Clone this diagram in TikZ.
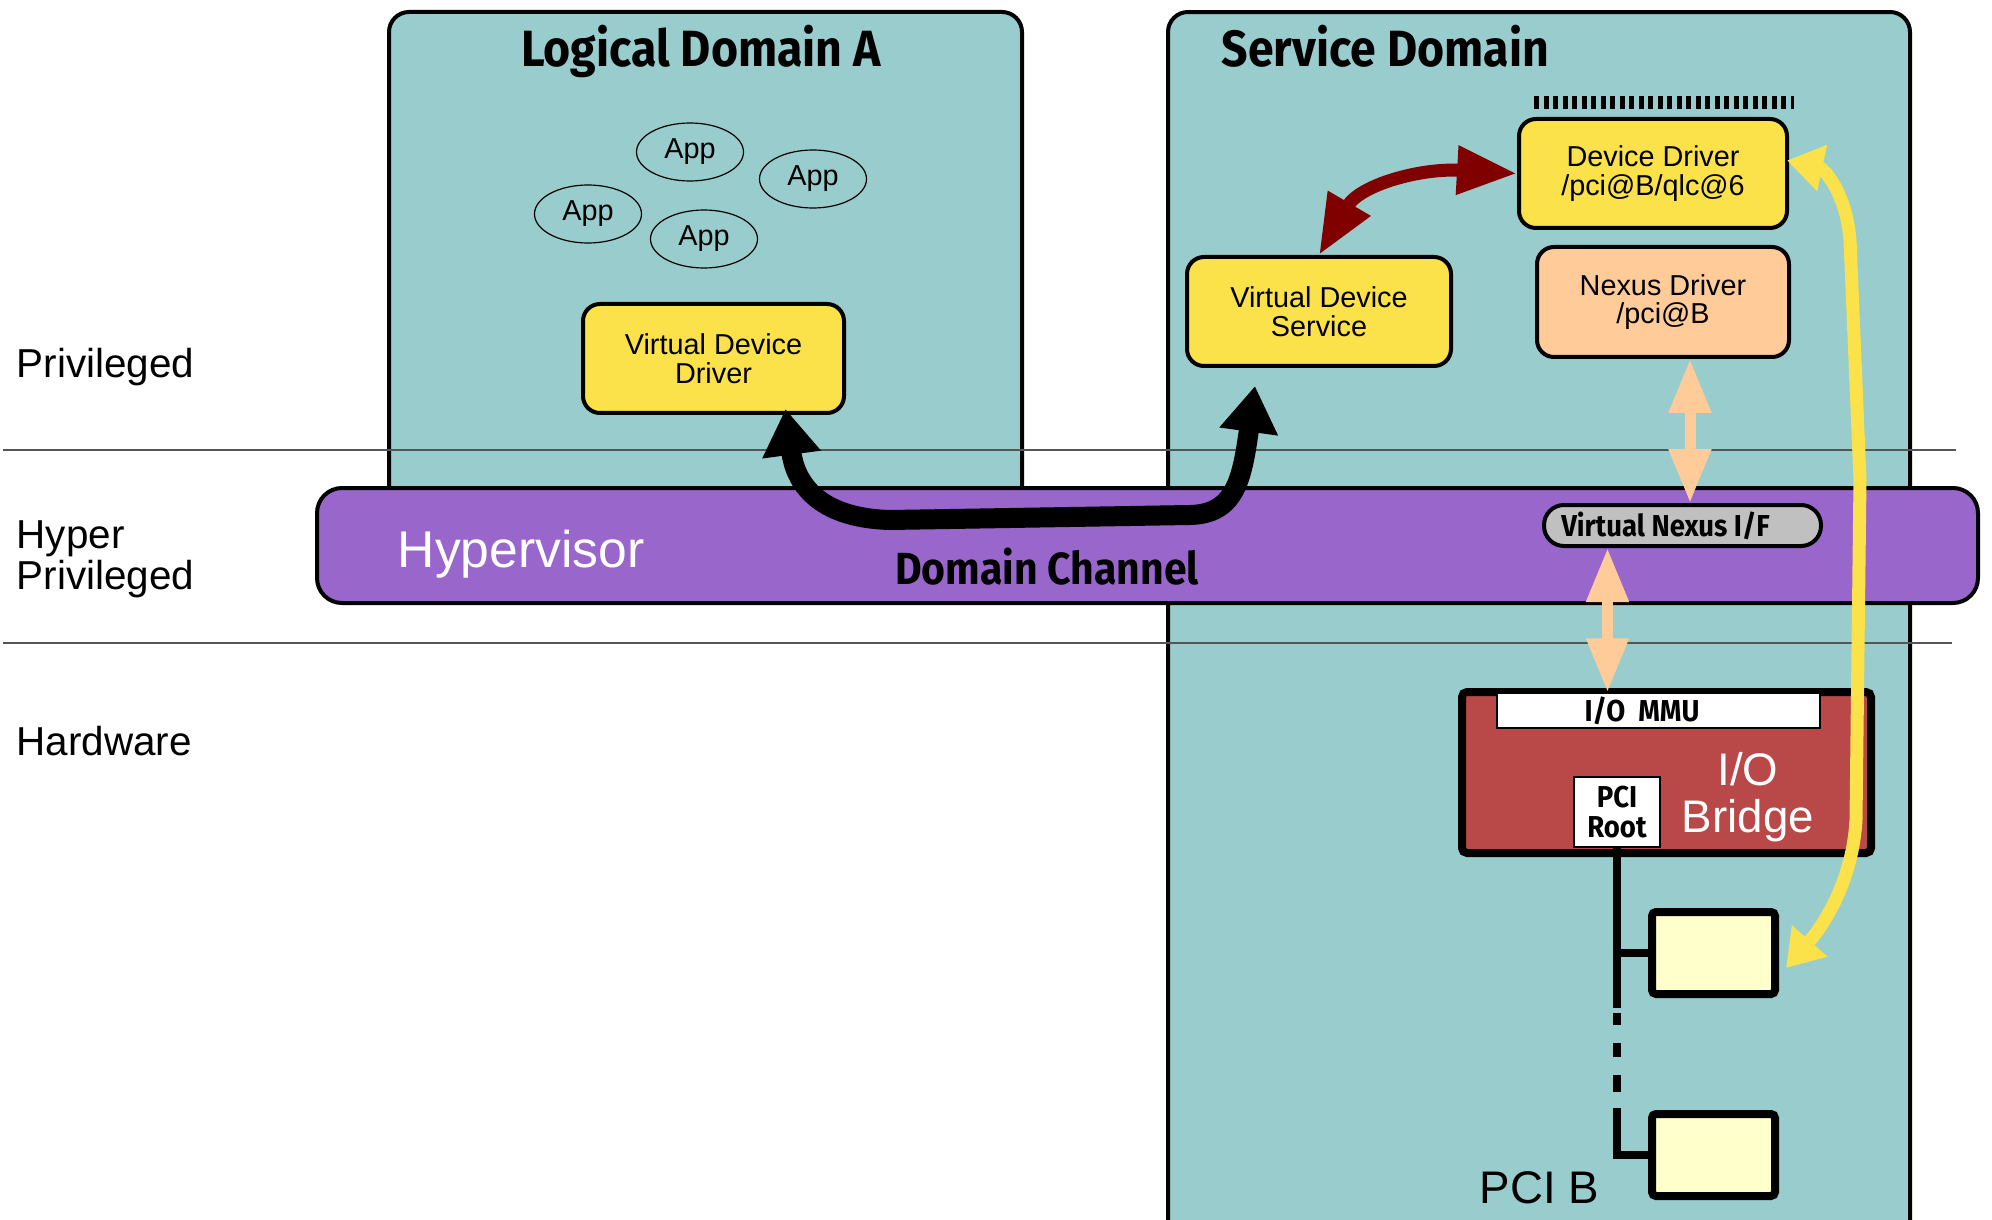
\documentclass[tikz,border=0pt]{standalone}
\usepackage{fontspec}
\setmainfont{Liberation Sans}
\newfontfamily\condfont{Fira Sans}[FakeStretch=0.91]
\usetikzlibrary{arrows.meta, calc, shapes.geometric}

\definecolor{domteal}{RGB}{153, 204, 204}
\definecolor{hypviolet}{RGB}{153, 102, 204}
\definecolor{drvyellow}{RGB}{251, 225, 74}
\definecolor{nexpeach}{RGB}{255, 204, 153}
\definecolor{nexgray}{RGB}{192, 192, 192}
\definecolor{bridgered}{RGB}{185, 72, 72}
\definecolor{linkred}{RGB}{128, 0, 0}
\definecolor{cardyellow}{RGB}{255, 255, 204}
\definecolor{levelgray}{RGB}{85, 85, 85}

\begin{document}
\begin{tikzpicture}[x=0.1mm, y=-0.1mm,
  font=\fontsize{8.2}{8.1}\selectfont,
  domainbox/.style={draw, line width=0.4mm, fill=domteal, rounded corners=2mm},
  drvbox/.style={draw, line width=0.4mm, rounded corners=1.7mm, align=center, inner sep=0pt},
  appbubble/.style={draw, ellipse, line width=0.12mm, minimum width=10.7mm, minimum height=5.8mm, inner sep=0pt},
  cardbox/.style={draw, line width=0.8mm, fill=cardyellow, rounded corners=0.4mm, minimum width=12.3mm, minimum height=8.2mm},
  levellbl/.style={inner sep=0pt, align=left, font=\fontsize{11.5}{11.7}\selectfont},
  titlelbl/.style={anchor=base, inner sep=0pt, font=\condfont\bfseries\fontsize{14.5}{14.5}\selectfont},
  condlbl/.style={font=\condfont\bfseries\fontsize{8.6}{8.6}\selectfont},
  bus/.style={line width=0.8mm},
  chanlink/.style={line width=2mm, >={Triangle[width=5.6mm,length=4.6mm]}, <->},
  redlink/.style={draw=linkred, line width=1.3mm, >={Triangle[width=4.6mm,length=6mm]}, <->},
  peachlink/.style={draw=nexpeach, line width=1.1mm, >={Triangle[width=4mm,length=5.4mm]}, <->},
  yellowlink/.style={draw=drvyellow, line width=1.3mm, >={Triangle[width=4.5mm,length=3.6mm]}, <->}]

  \useasboundingbox (0,0) rectangle (1992,1220);
  \fill[white] (0,0) rectangle (1992,1220);
  \clip (0,0) rectangle (1992,1220);

  % domains
  \node[domainbox, minimum width=63.3mm, minimum height=54.8mm] (lda) at (705.5,286) {};
  \node[domainbox, minimum width=74.2mm, minimum height=128.8mm] (sd) at (1539,656) {};

  % privilege levels
  \draw[levelgray, line width=0.15mm] (3,450) -- (1956,450);
  \draw[levelgray, line width=0.15mm] (3,643) -- (1952,643);
  \node[levellbl, anchor=base west] (privlbl) at (16,377) {Privileged};
  \node[levellbl, anchor=north west] (hyperlbl) at (16,520) {Hyper\\Privileged};
  \node[levellbl, anchor=base west] (hwlbl) at (16,755) {Hardware};

  % hypervisor
  \node[draw, line width=0.4mm, fill=hypviolet, rounded corners=2.5mm,
        minimum width=166.1mm, minimum height=11.5mm] (hyp) at (1147.5,545.5) {};
  \node[anchor=base west, inner sep=0pt, text=white, font=\fontsize{14.7}{14.7}\selectfont] (hyplbl) at (397,567) {Hypervisor};
  \node[titlelbl, font=\condfont\bfseries\fontsize{12.8}{12.8}\selectfont] (chanlbl) at (1047,584) {Domain Channel};

  \node[titlelbl] (ldatitle) at (701,67) {Logical Domain A};
  \node[titlelbl, anchor=base west] (sdtitle) at (1221,67) {Service Domain};

  % guest side
  \node[appbubble] (app1) at (690,152) {App};
  \node[appbubble] (app2) at (813,179) {App};
  \node[appbubble] (app3) at (588,214) {App};
  \node[appbubble] (app4) at (704,239) {App};
  \node[drvbox, fill=drvyellow, minimum width=26.1mm, minimum height=10.9mm] (vdd) at (713.5,358.5) {Virtual Device\\Driver};

  % service side
  \node[drvbox, fill=drvyellow, minimum width=26.4mm, minimum height=10.9mm] (vds) at (1319,311.5) {Virtual Device\\Service};
  \node[drvbox, fill=drvyellow, minimum width=26.8mm, minimum height=10.9mm] (dd) at (1653,173.5) {Device Driver\\/pci@B/qlc@6};
  \node[drvbox, fill=nexpeach, minimum width=25.2mm, minimum height=11mm] (nexus) at (1663,302) {Nexus Driver\\/pci@B};
  \draw[line width=1.3mm, dash pattern=on 0.5mm off 0.45mm] ($(dd.north west)+(17,-14.5)$) -- ($(dd.north east)+(5,-14.5)$);
  \node[drvbox, condlbl, fill=nexgray, rounded corners=2mm, minimum width=27.7mm, minimum height=4.1mm] (vnif) at (1682.5,525.5) {Virtual Nexus I/F\hspace*{3.4mm}};

  % hardware
  \node[draw, line width=0.8mm, fill=bridgered, rounded corners=0.5mm, minimum width=40.9mm, minimum height=16.1mm] (bridge) at (1666.5,772.5) {};
  \node[draw, condlbl, line width=0.15mm, fill=white, inner sep=0pt, minimum width=32.3mm, minimum height=3.5mm] (mmu) at (1658.5,710.5) {I/O\ \ MMU\hspace*{3.3mm}};
  \node[draw, condlbl, line width=0.15mm, fill=white, inner sep=0pt, align=center, minimum width=8.6mm, minimum height=7mm] (root) at (1617,812) {PCI\\Root};
  \node[anchor=north, inner sep=0pt, align=center, text=white, font=\fontsize{13}{13.4}\selectfont] (bridgelbl) at (1748,752) {I/O\\Bridge};
  \node[cardbox] (card1) at (1713.5,953) {};
  \node[cardbox] (card2) at (1713.5,1155) {};
  \node[anchor=base west, inner sep=0pt, font=\fontsize{13}{13}\selectfont] (pcilbl) at (1479,1203) {PCI B};

  % pci bus
  \coordinate (tap1) at (root.south |- card1.west);
  \coordinate (tap2) at (root.south |- card2.west);
  \draw[bus] (root.south) -- (tap1) -- (card1.west);
  \draw[bus, dash pattern=on 5.5mm off 0.5mm on 1.2mm off 1.8mm on 1.4mm off 1.8mm on 1.7mm off 1.6mm on 30mm] (tap1) -- (tap2) -- (card2.west);

  % links
  \draw[chanlink] ($(vdd.south)+(72,-6)$) .. controls (795,480) and (815,518) .. (890,520)
    -- (1190,515) .. controls (1235,514) and (1242,480) .. ($(vds.south)+(-64,18)$);
  \draw[redlink] (vds.north) .. controls (1360,185) and (1420,168) .. (dd.west);
  \coordinate (nxport) at ($(nexus.south)+(27,0)$);
  \draw[peachlink] (nxport) -- (nxport |- vnif.north);
  \coordinate (vnport) at ($(vnif.south)+(-75,0)$);
  \draw[peachlink] (vnport) -- (vnport |- mmu.north);
  \draw[yellowlink] ($(card1.east)+(7,15)$) .. controls (1815,935) and (1852,890) .. (1856,820)
    -- (1860,480) -- (1850,240) .. controls (1846,190) and (1822,168) .. ($(dd.east)+(-2,-13)$);
\end{tikzpicture}
\end{document}
